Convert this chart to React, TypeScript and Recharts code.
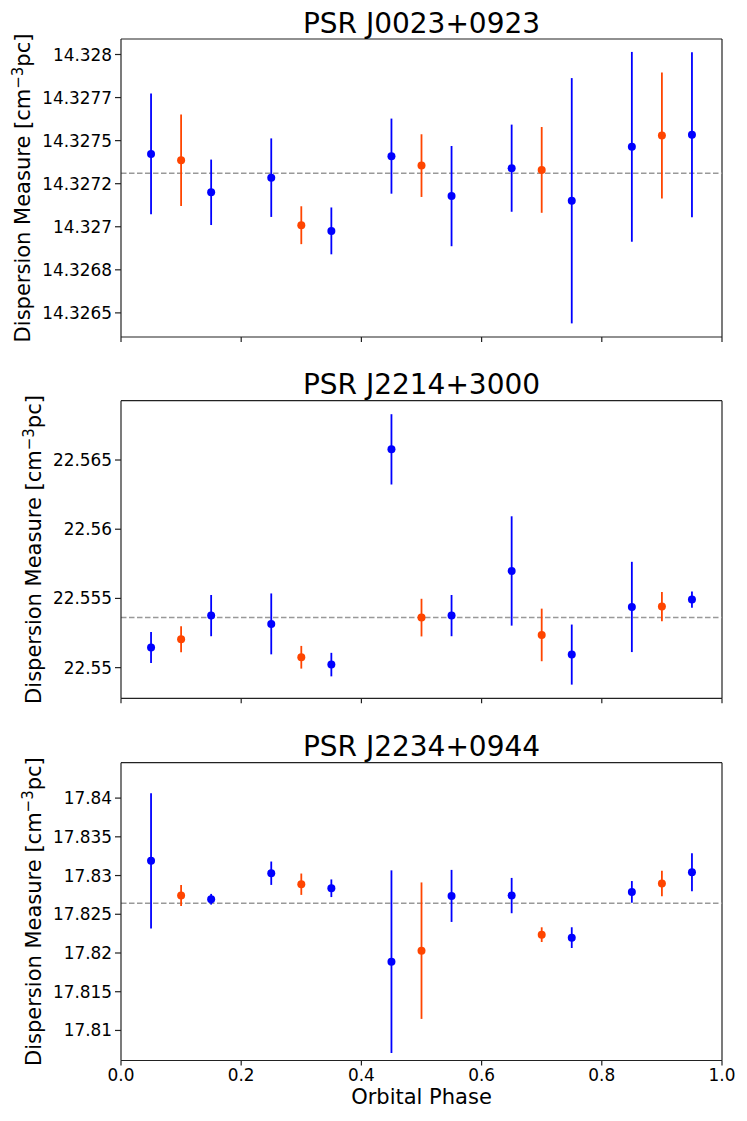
import React from 'react';
import { ScatterChart, Scatter, XAxis, YAxis, ErrorBar, ReferenceLine, Label } from 'recharts';

// ---------- data ----------
const bluePhase = [0.05, 0.15, 0.25, 0.35, 0.45, 0.55, 0.65, 0.75, 0.85, 0.95];
const orangePhase = [0.1, 0.3, 0.5, 0.7, 0.9];

const j0023Blue = [14.327423, 14.3272, 14.327285, 14.326976, 14.32741, 14.327178, 14.32734, 14.327151, 14.327464, 14.327534];
const j0023BlueErr = [0.00035, 0.00019, 0.000228, 0.000136, 0.000218, 0.000291, 0.000253, 0.000712, 0.000551, 0.000479];
const j0023Orange = [14.327386, 14.327009, 14.327355, 14.32733, 14.32753];
const j0023OrangeErr = [0.000265, 0.00011, 0.000182, 0.000249, 0.000366];
const j0023Mean = 14.32731;
const j0023Domain = [14.32636, 14.32809];
const j0023Ticks = [14.3265, 14.32675, 14.327, 14.32725, 14.3275, 14.32775, 14.328];
const j0023TickLabels = ['14.3265', '14.3268', '14.327', '14.3272', '14.3275', '14.3277', '14.328'];

const j2214Blue = [22.55145, 22.55376, 22.55316, 22.55022, 22.56577, 22.55376, 22.556985, 22.550943, 22.554385, 22.554915];
const j2214BlueErr = [0.00112, 0.00149, 0.0022, 0.00085, 0.00254, 0.00149, 0.00395, 0.00217, 0.00326, 0.00058];
const j2214Orange = [22.55205, 22.55075, 22.553615, 22.552363, 22.554409];
const j2214OrangeErr = [0.00094, 0.00082, 0.00136, 0.0019, 0.00105];
const j2214Mean = 22.553615;
const j2214Domain = [22.547785, 22.569285];
const j2214Ticks = [22.55, 22.555, 22.56, 22.565];
const j2214TickLabels = ['22.55', '22.555', '22.56', '22.565'];

const j2234Blue = [17.8319, 17.82694, 17.8303, 17.82836, 17.81888, 17.82737, 17.827414, 17.821984, 17.82789, 17.830432];
const j2234BlueErr = [0.00873, 0.00069, 0.00151, 0.00114, 0.01179, 0.00336, 0.00228, 0.00134, 0.0014, 0.00246];
const j2234Orange = [17.827414, 17.82888, 17.8203, 17.82237, 17.828966];
const j2234OrangeErr = [0.00136, 0.00138, 0.00881, 0.00095, 0.00164];
const j2234Mean = 17.826423;
const j2234Domain = [17.80612, 17.84457];
const j2234Ticks = [17.81, 17.815, 17.82, 17.825, 17.83, 17.835, 17.84];
const j2234TickLabels = ['17.81', '17.815', '17.82', '17.825', '17.83', '17.835', '17.84'];

const xTicks = [0, 0.2, 0.4, 0.6, 0.8, 1.0];
const xTickLabels = ['0.0', '0.2', '0.4', '0.6', '0.8', '1.0'];

const titles = ['PSR J0023+0923', 'PSR J2214+3000', 'PSR J2234+0944'];

// ---------- styling ----------
const FONT = 'DejaVu Sans, sans-serif';
const BLUE = '#0000ff';
const ORANGE = '#ff4500';
const SPINE = '#222';
const CHART_W = 747;
const PLOT_LEFT = 121;
const PLOT_RIGHT = 722;
const Y_AXIS_W = 100;
const LABEL_SIZE = 21;

const build = (phases: number[], vals: number[], errs: number[]) =>
  phases.map((x, i) => ({ x, y: vals[i], err: errs[i] }));

const dot = (color: string) => (p: any) =>
  <circle cx={p.cx} cy={p.cy} r={4} fill={color} stroke="none" />;

type PanelProps = {
  top: number;
  height: number;
  marginTop: number;
  marginBottom: number;
  xAxisHeight: number;
  labelOffset: number;
  showX: boolean;
  title: string;
  blue: any[];
  orange: any[];
  mean: number;
  domain: number[];
  ticks: number[];
  tickLabels: string[];
};

function Panel(props: PanelProps) {
  const { top, height, marginTop, marginBottom, xAxisHeight, labelOffset, showX, title, blue, orange, mean, domain, ticks, tickLabels } = props;
  const plotW = PLOT_RIGHT - PLOT_LEFT;
  const yFmt = (v: number) => {
    const i = ticks.findIndex((t) => Math.abs(t - v) < 1e-9);
    return i >= 0 ? tickLabels[i] : String(v);
  };
  const xFmt = (v: number) => {
    if (!showX) return '';
    const i = xTicks.findIndex((t) => Math.abs(t - v) < 1e-9);
    return i >= 0 ? xTickLabels[i] : String(v);
  };
  const yLabel = (lp: any) => {
    const vb = lp.viewBox;
    const x = vb.x + labelOffset;
    const cy = vb.y + vb.height / 2;
    const tx = vb.x + vb.width + plotW / 2;
    const ty = vb.y - 6.5;
    return (
      <g>
        <text x={x} y={cy} transform={`rotate(-90 ${x} ${cy})`} textAnchor="middle" fontSize={LABEL_SIZE} fontFamily={FONT} fill="#000">
          Dispersion Measure [cm<tspan dy={-7.5} fontSize={15}>−3</tspan><tspan dy={7.5} fontSize={LABEL_SIZE}>pc]</tspan>
        </text>
        <text x={tx} y={ty} textAnchor="middle" fontSize={28} fontFamily={FONT} fill="#000">{title}</text>
      </g>
    );
  };
  const xLabel = (lp: any) => {
    const vb = lp.viewBox;
    return (
      <text x={vb.x + vb.width / 2} y={vb.y + 43.5} textAnchor="middle" fontSize={LABEL_SIZE} fontFamily={FONT} fill="#000">
        Orbital Phase
      </text>
    );
  };
  return (
    <div style={{ position: 'absolute', left: 0, top }}>
      <ScatterChart
        width={CHART_W}
        height={height}
        margin={{ top: marginTop, right: CHART_W - PLOT_RIGHT, bottom: marginBottom, left: PLOT_LEFT - Y_AXIS_W }}
        style={{ fontFamily: FONT }}
      >
        <XAxis
          type="number"
          dataKey="x"
          domain={[0, 1]}
          ticks={xTicks}
          tickFormatter={xFmt}
          height={xAxisHeight}
          tickSize={5}
          tickMargin={3.5}
          axisLine={{ stroke: SPINE, strokeWidth: 1.2 }}
          tickLine={{ stroke: SPINE, strokeWidth: 1.2 }}
          tick={{ fontSize: 16.9, fill: '#000', fontFamily: FONT }}
          allowDataOverflow
        >
          {showX ? <Label content={xLabel} /> : null}
        </XAxis>
        <YAxis
          type="number"
          dataKey="y"
          domain={domain}
          ticks={ticks}
          tickFormatter={yFmt}
          width={Y_AXIS_W}
          tickSize={6}
          tickMargin={3}
          axisLine={{ stroke: SPINE, strokeWidth: 1.2 }}
          tickLine={{ stroke: SPINE, strokeWidth: 1.2 }}
          tick={{ fontSize: 16.9, fill: '#000', fontFamily: FONT }}
          allowDataOverflow
        >
          <Label content={yLabel} />
        </YAxis>
        <ReferenceLine y={domain[1]} stroke={SPINE} strokeWidth={1.2} />
        <ReferenceLine x={1} stroke={SPINE} strokeWidth={1.2} />
        <ReferenceLine y={mean} stroke="#999" strokeWidth={1.5} strokeDasharray="5.5 2.5" />
        <Scatter data={blue} fill={BLUE} shape={dot(BLUE)} isAnimationActive={false}>
          <ErrorBar dataKey="err" direction="y" width={0} stroke={BLUE} strokeWidth={1.8} isAnimationActive={false} />
        </Scatter>
        <Scatter data={orange} fill={ORANGE} shape={dot(ORANGE)} isAnimationActive={false}>
          <ErrorBar dataKey="err" direction="y" width={0} stroke={ORANGE} strokeWidth={1.8} isAnimationActive={false} />
        </Scatter>
      </ScatterChart>
    </div>
  );
}

export default function App() {
  return (
    <div style={{ position: 'absolute', left: 0, top: 0, width: CHART_W, height: 1121, background: '#fff' }}>
      <Panel
        top={0}
        height={360}
        marginTop={39}
        marginBottom={8}
        xAxisHeight={15}
        labelOffset={9}
        showX={false}
        title={titles[0]}
        blue={build(bluePhase, j0023Blue, j0023BlueErr)}
        orange={build(orangePhase, j0023Orange, j0023OrangeErr)}
        mean={j0023Mean}
        domain={j0023Domain}
        ticks={j0023Ticks}
        tickLabels={j0023TickLabels}
      />
      <Panel
        top={360}
        height={360}
        marginTop={40.7}
        marginBottom={6.7}
        xAxisHeight={15}
        labelOffset={20}
        showX={false}
        title={titles[1]}
        blue={build(bluePhase, j2214Blue, j2214BlueErr)}
        orange={build(orangePhase, j2214Orange, j2214OrangeErr)}
        mean={j2214Mean}
        domain={j2214Domain}
        ticks={j2214Ticks}
        tickLabels={j2214TickLabels}
      />
      <Panel
        top={720}
        height={401}
        marginTop={42.7}
        marginBottom={10.5}
        xAxisHeight={50}
        labelOffset={20}
        showX={true}
        title={titles[2]}
        blue={build(bluePhase, j2234Blue, j2234BlueErr)}
        orange={build(orangePhase, j2234Orange, j2234OrangeErr)}
        mean={j2234Mean}
        domain={j2234Domain}
        ticks={j2234Ticks}
        tickLabels={j2234TickLabels}
      />
    </div>
  );
}
